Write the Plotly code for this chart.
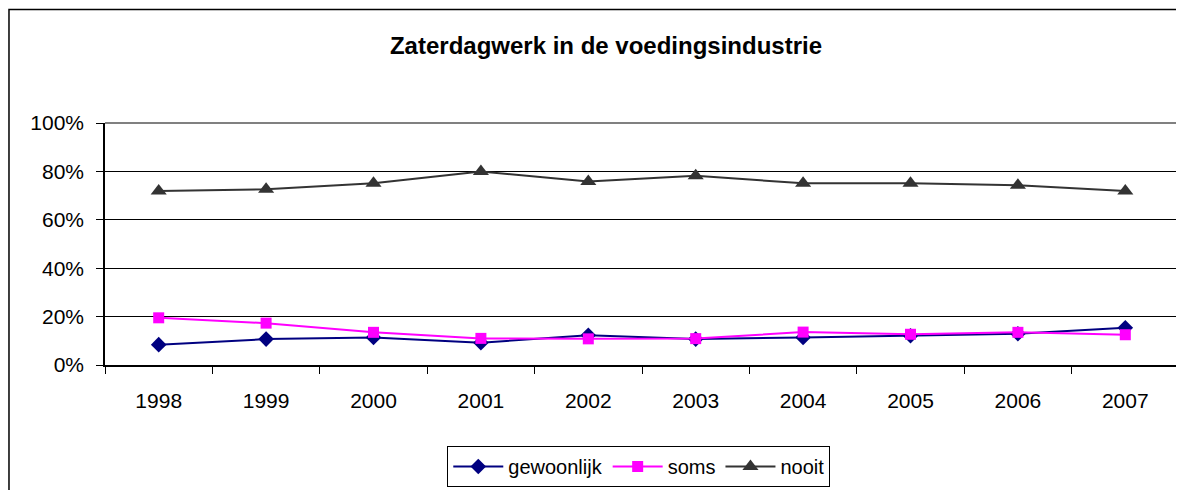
import plotly.graph_objects as go

jaren = ["1998", "1999", "2000", "2001", "2002", "2003", "2004", "2005", "2006", "2007"]
gewoonlijk = [0.084, 0.107, 0.114, 0.092, 0.123, 0.107, 0.114, 0.121, 0.129, 0.154]
soms = [0.195, 0.173, 0.135, 0.110, 0.108, 0.109, 0.136, 0.127, 0.135, 0.125]
nooit = [0.719, 0.726, 0.751, 0.800, 0.758, 0.782, 0.751, 0.751, 0.743, 0.719]

font = "Liberation Sans, Arial, sans-serif"

fig = go.Figure()
fig.add_trace(go.Scatter(x=jaren, y=gewoonlijk, name="gewoonlijk", mode="lines+markers",
                         line=dict(color="#000080", width=2),
                         marker=dict(symbol="diamond", size=12, color="#000080")))
fig.add_trace(go.Scatter(x=jaren, y=soms, name="soms", mode="lines+markers",
                         line=dict(color="#ff00ff", width=2),
                         marker=dict(symbol="square", size=11, color="#ff00ff")))
fig.add_trace(go.Scatter(x=jaren, y=nooit, name="nooit", mode="lines+markers",
                         line=dict(color="#333333", width=2),
                         marker=dict(symbol="triangle-up", size=14, color="#333333")))

# grey plot-area border on top and right, black outer chart border
fig.add_shape(type="line", xref="paper", yref="paper", x0=0, x1=1, y0=1, y1=1,
              line=dict(color="#808080", width=2))
fig.add_shape(type="line", xref="paper", yref="paper", x0=1, x1=1, y0=0, y1=1,
              line=dict(color="#808080", width=2))
fig.add_shape(type="rect", xref="paper", yref="paper", x0=-0.0894, x1=1.2, y0=-1.0, y1=1.469,
              line=dict(color="black", width=1.5))

fig.update_xaxes(type="category", range=[-0.5, len(jaren) - 0.5], tickson="boundaries",
                 ticks="outside", ticklen=7, ticklabelstandoff=16,
                 tickcolor="black", showline=True, linecolor="black", linewidth=1.5,
                 showgrid=False, tickfont=dict(size=21, color="black", family=font))
fig.update_yaxes(range=[0, 1], dtick=0.2, tickformat=".0%", ticks="outside", ticklen=7,
                 ticklabelstandoff=8,
                 tickcolor="black", showline=True, linecolor="black", linewidth=1.5,
                 showgrid=True, gridcolor="black", gridwidth=1, zeroline=False,
                 tickfont=dict(size=21, color="black", family=font))

# page body has an 8px margin, so the figure is 8px smaller than the window
fig.update_layout(
    width=1176, height=482,
    margin=dict(l=97, r=5, t=115, b=124),
    paper_bgcolor="white", plot_bgcolor="white",
    font=dict(family=font, color="black"),
    title=dict(text="<b>Zaterdagwerk in de voedingsindustrie</b>", x=0.5085, xanchor="center",
               y=0.923, yanchor="middle", font=dict(size=24, family=font)),
    legend=dict(orientation="h", x=0.497, xanchor="center", y=-0.329, yanchor="top",
                bordercolor="black", borderwidth=1, font=dict(size=20, family=font),
                itemwidth=50),
    showlegend=True,
)

fig.write_html("out.html")
